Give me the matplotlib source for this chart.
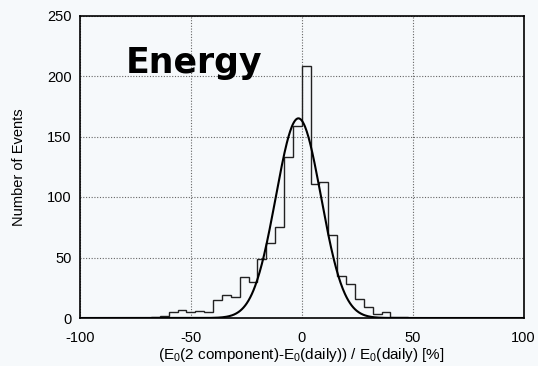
import numpy as np
import matplotlib.pyplot as plt

# histogram of relative energy differences, 4 % bins
bin_edges = np.arange(-68, 52, 4)
counts = [1, 2, 5, 7, 5, 6, 5, 15, 19, 17, 34, 30, 49, 62, 75,
          133, 159, 208, 111, 112, 69, 35, 28, 16, 9, 3, 5, 1, 1]

# gaussian fit parameters
fit_amp = 165.0
fit_mean = -1.5
fit_sigma = 10.2

x_ticks = [-100, -50, 0, 50, 100]
y_ticks = [0, 50, 100, 150, 200, 250]

bg = "#f6f9fb"
plt.rcParams["font.family"] = ["Liberation Sans", "DejaVu Sans"]
plt.rcParams["axes.unicode_minus"] = False
plt.rcParams["mathtext.fontset"] = "custom"
plt.rcParams["mathtext.rm"] = "Liberation Sans"

fig = plt.figure(figsize=(5.38, 3.66), dpi=100, facecolor=bg)
ax = fig.add_axes([80 / 538, 1 - 318 / 366, 443.5 / 538, 302.5 / 366])
ax.set_facecolor(bg)

# step outline, padded with empty bins out to the axis limits
edges = np.concatenate([[-100], bin_edges, [100]])
vals = np.concatenate([[0], counts, [0]])
ax.stairs(vals, edges, color="#222222", lw=1.0, zorder=3)

xs = np.linspace(-100, 100, 801)
ax.plot(xs, fit_amp * np.exp(-0.5 * ((xs - fit_mean) / fit_sigma) ** 2),
        color="black", lw=1.5, zorder=4)

ax.set_xlim(-100, 100)
ax.set_ylim(0, 250)
ax.set_xticks(x_ticks)
ax.set_yticks(y_ticks)
ax.tick_params(axis="x", length=0, labelsize=10.5, pad=9)
ax.tick_params(axis="y", length=0, labelsize=10.5, pad=6)
ax.grid(True, color="#666666", ls=(0, (1, 1.5)), lw=0.8)
for s in ax.spines.values():
    s.set_linewidth(1.2)

ax.set_xlabel(r"(E$_0$(2 component)-E$_0$(daily)) / E$_0$(daily) [%]",
              fontsize=11, labelpad=1)
ax.set_ylabel("Number of Events", fontsize=10.5, labelpad=15)

ax.text(-79.5, 211, "Energy", fontsize=25, fontweight="heavy",
        family="DejaVu Sans", va="center", ha="left")

fig.savefig("out.png", dpi=100, facecolor=bg)
